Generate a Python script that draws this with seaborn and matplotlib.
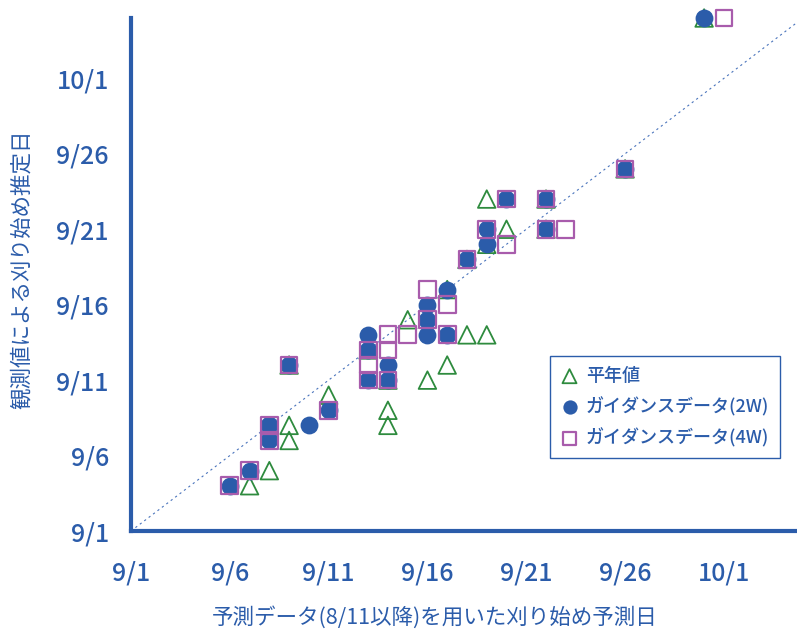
import pandas as pd
import matplotlib.pyplot as plt
import seaborn as sns

# dates (month/day)
normal_pred = ['9/7', '9/8', '9/9', '9/9', '9/11', '9/14', '9/14', '9/16', '9/17', '9/15',
               '9/18', '9/19', '9/19', '9/20', '9/30', '9/9', '9/13', '9/14', '9/17', '9/18',
               '9/19', '9/22', '9/22', '9/26']
normal_obs = ['9/4', '9/5', '9/8', '9/7', '9/10', '9/9', '9/8', '9/11', '9/12', '9/15',
              '9/14', '9/14', '9/23', '9/21', '10/5', '9/12', '9/13', '9/11', '9/17', '9/19',
              '9/20', '9/23', '9/21', '9/25']

guide2w_pred = ['9/6', '9/7', '9/8', '9/8', '9/9', '9/10', '9/11', '9/13', '9/13', '9/13',
                '9/14', '9/14', '9/16', '9/16', '9/16', '9/17', '9/17', '9/18', '9/19', '9/19',
                '9/20', '9/22', '9/22', '9/26', '9/30']
guide2w_obs = ['9/4', '9/5', '9/8', '9/7', '9/12', '9/8', '9/9', '9/14', '9/13', '9/11',
               '9/12', '9/11', '9/16', '9/15', '9/14', '9/17', '9/14', '9/19', '9/21', '9/20',
               '9/23', '9/23', '9/21', '9/25', '10/5']

guide4w_pred = ['9/6', '9/7', '9/8', '9/8', '9/9', '9/11', '9/13', '9/13', '9/13', '9/14',
                '9/14', '9/14', '9/15', '9/16', '9/16', '9/17', '9/17', '9/18', '9/19', '9/20',
                '9/20', '9/22', '9/22', '9/23', '9/26', '10/1']
guide4w_obs = ['9/4', '9/5', '9/8', '9/7', '9/12', '9/9', '9/13', '9/12', '9/11', '9/14',
               '9/13', '9/11', '9/14', '9/17', '9/15', '9/16', '9/14', '9/19', '9/21', '9/20',
               '9/23', '9/23', '9/21', '9/21', '9/25', '10/5']

tick_labels = ['9/1', '9/6', '9/11', '9/16', '9/21', '9/26', '10/1']
series_names = ['平年値', 'ガイダンスデータ(2W)', 'ガイダンスデータ(4W)']


def to_day(labels):
    # days since 9/1
    d = pd.to_datetime(['2020/' + s for s in labels], format='%Y/%m/%d')
    return (d - pd.Timestamp('2020-09-01')).days


blue = '#2B5CAA'
green = '#2E8B3E'
purple = '#A85CAC'

sns.set_style('white')
plt.rcParams['font.family'] = ['Noto Sans CJK JP', 'DejaVu Sans']
plt.rcParams['font.weight'] = 'medium'

fig = plt.figure(figsize=(7.97, 6.31), dpi=100)
ax = fig.add_axes([131 / 797, 100 / 631, 666 / 797, 513 / 631])

ax.axline((0, 0), slope=1, color='#4A74BC', linewidth=0.8,
          linestyle=(0, (2, 3)), zorder=2)

df_n = pd.DataFrame({'x': to_day(normal_pred), 'y': to_day(normal_obs)})
df_2 = pd.DataFrame({'x': to_day(guide2w_pred), 'y': to_day(guide2w_obs)})
df_4 = pd.DataFrame({'x': to_day(guide4w_pred), 'y': to_day(guide4w_obs)})

sns.scatterplot(data=df_n, x='x', y='y', ax=ax, marker='^', s=160,
                facecolor='none', edgecolor=green, linewidth=1.3,
                label=series_names[0], zorder=3, clip_on=False)
sns.scatterplot(data=df_2, x='x', y='y', ax=ax, marker='o', s=165,
                color=blue, edgecolor=blue, linewidth=0,
                label=series_names[1], zorder=4, clip_on=False)
sns.scatterplot(data=df_4, x='x', y='y', ax=ax, marker='s', s=145,
                facecolor='none', edgecolor=purple, linewidth=1.6,
                label=series_names[2], zorder=5, clip_on=False)

ax.set_xlim(0, 33.7)
ax.set_ylim(0, 34)
ticks = to_day(tick_labels)
ax.set_xticks(ticks)
ax.set_xticklabels(tick_labels)
ax.set_yticks(ticks)
ax.set_yticklabels(tick_labels)

for side in ['top', 'right']:
    ax.spines[side].set_visible(False)
for side in ['left', 'bottom']:
    ax.spines[side].set_color(blue)
    ax.spines[side].set_linewidth(3)
ax.tick_params(axis='both', direction='in', length=7, width=2.5, color=blue,
               labelcolor=blue, labelsize=18)
ax.tick_params(axis='x', pad=21)
ax.tick_params(axis='y', pad=16)

ax.set_xlabel('予測データ(8/11以降)を用いた刈り始め予測日', fontsize=15.5, color=blue)
ax.set_ylabel('観測値による刈り始め推定日', fontsize=15.5, color=blue)
ax.xaxis.set_label_coords(0.4565, -0.1676)
ax.xaxis.label.set_va('center')
ax.yaxis.set_label_coords(-0.164, 0.511)
ax.yaxis.label.set_va('center')

leg = ax.legend(loc='center', bbox_to_anchor=(0.8015, 0.2415), fontsize=13,
                frameon=True, fancybox=False, edgecolor=blue, framealpha=1,
                markerscale=0.8, handlelength=1.0, handletextpad=0.4,
                labelspacing=0.65, borderpad=0.6)
leg.get_frame().set_linewidth(1)
for t in leg.get_texts():
    t.set_color(blue)

fig.savefig('out.png', dpi=100)
